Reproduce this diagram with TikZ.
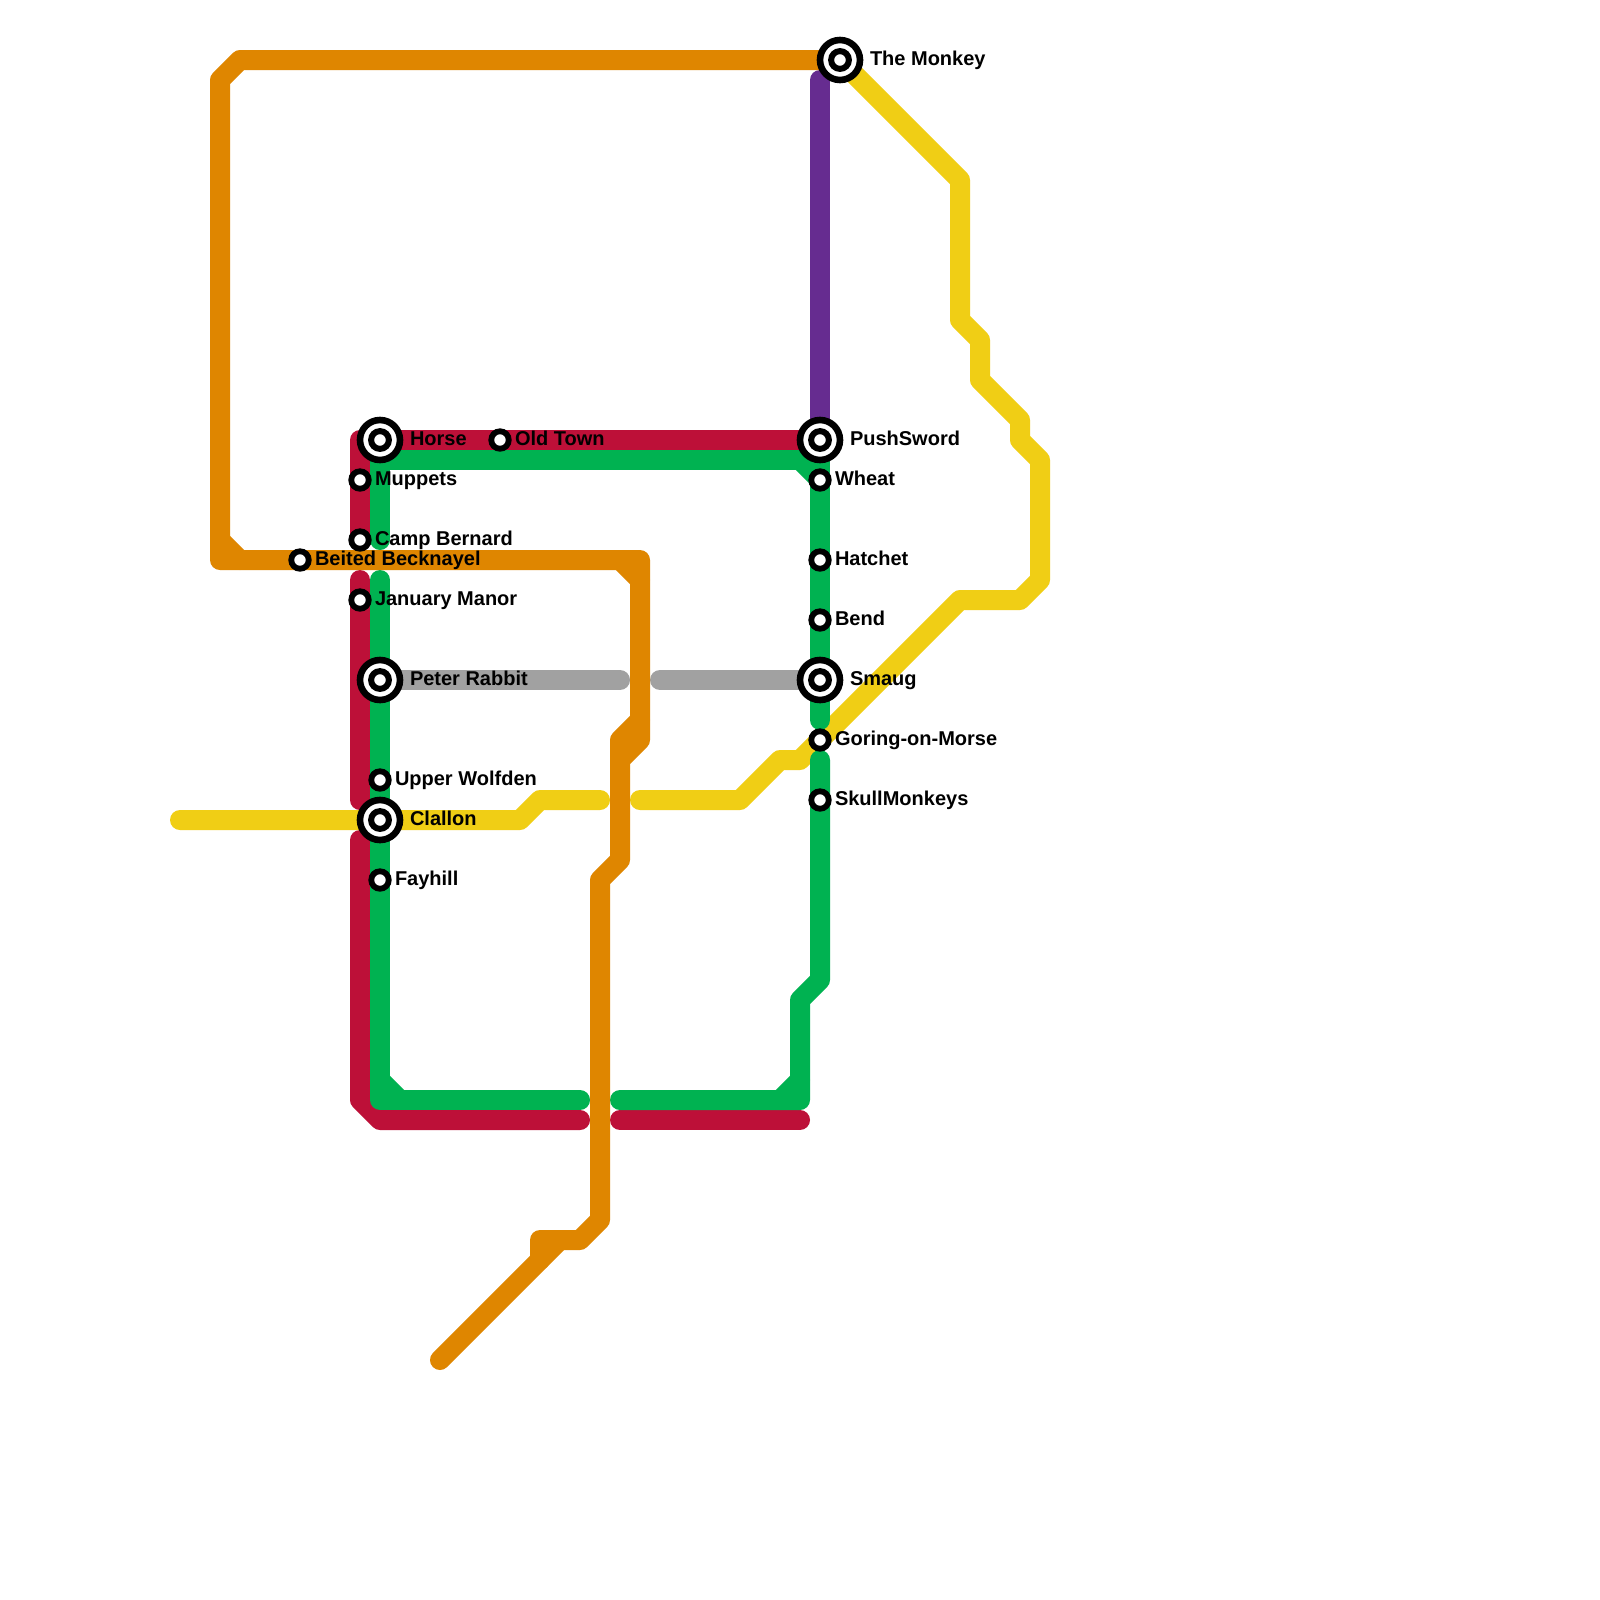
\documentclass[tikz,border=0pt]{standalone}
\usepackage{fontspec}
\setmainfont{Liberation Sans}
\usetikzlibrary{backgrounds}
\definecolor{lorange}{HTML}{DF8600}
\definecolor{lred}{HTML}{BD1038}
\definecolor{lgreen}{HTML}{00B251}
\definecolor{lyellow}{HTML}{F0CE15}
\definecolor{lpurple}{HTML}{662C90}
\definecolor{lgray}{HTML}{A1A1A1}
\tikzset{
  metro/.style={line width=1cm,line cap=round,line join=round},
  stop/.style={circle,draw=black,fill=white,line width=0.29cm,minimum size=0.875cm,inner sep=0pt,outer sep=0pt},
  hubouter/.style={circle,draw=black,fill=white,line width=0.33cm,minimum size=2cm,inner sep=0pt,outer sep=0pt},
  hubinner/.style={circle,draw=black,fill=white,line width=0.3cm,minimum size=0.89cm,inner sep=0pt,outer sep=0pt},
  tag/.style={anchor=base west,inner sep=0pt,outer sep=0pt,font=\fontsize{28.45}{30}\selectfont\bfseries,text=black}
}
\newcommand{\hubstop}[3]{%
  \node[hubouter] (#1) at (#2) {};
  \node[hubinner] (#1i) at (#2) {};
  \node[tag] (#1t) at ([xshift=1.5cm,yshift=-0.28cm]#2) {#3};
}
\newcommand{\smallstop}[3]{%
  \node[stop] (#1) at (#2) {};
  \node[tag] (#1t) at ([xshift=0.75cm,yshift=-0.28cm]#2) {#3};
}
\begin{document}
\begin{tikzpicture}[x=0.05cm,y=-0.05cm]
\path[use as bounding box] (0,0) rectangle (1600,1600);
% stations
\hubstop{monkey}{840,60}{The Monkey}
\hubstop{horse}{380,440}{Horse}
\hubstop{push}{820,440}{PushSword}
\hubstop{peter}{380,680}{Peter Rabbit}
\hubstop{smaug}{820,680}{Smaug}
\hubstop{clallon}{380,820}{Clallon}
\smallstop{oldtown}{500,440}{Old Town}
\smallstop{muppets}{360,480}{Muppets}
\smallstop{camp}{360,540}{Camp Bernard}
\smallstop{beited}{300,560}{Beited Becknayel}
\smallstop{january}{360,600}{January Manor}
\smallstop{upper}{380,780}{Upper Wolfden}
\smallstop{fayhill}{380,880}{Fayhill}
\smallstop{wheat}{820,480}{Wheat}
\smallstop{hatchet}{820,560}{Hatchet}
\smallstop{bend}{820,620}{Bend}
\smallstop{goring}{820,740}{Goring-on-Morse}
\smallstop{skull}{820,800}{SkullMonkeys}
\begin{pgfonlayer}{background}
\fill[white] (0,0) rectangle (1600,1600);
% purple
\draw[metro,lpurple] (820,80) -- (push.center);
% red
\draw[metro,lred] (camp.center) -- (360,440) -- (push.center);
\draw[metro,lred] (360,580) -- (360,800);
\draw[metro,lred] (360,840) -- (360,1100) -- (380,1120) -- (580,1120);
\draw[metro,lred] (620,1120) -- (800,1120);
% grey
\draw[metro,lgray] (peter.center) -- (620,680);
\draw[metro,lgray] (660,680) -- (smaug.center);
% yellow
\draw[metro,lyellow] (monkey.center) -- (960,180) -- (960,320) -- (980,340) -- (980,380) -- (1020,420) -- (1020,440) -- (1040,460) -- (1040,580) -- (1020,600) -- (960,600) -- (goring.center) -- (800,760) -- (780,760) -- (740,800) -- (640,800);
\draw[metro,lyellow] (600,800) -- (540,800) -- (520,820) -- (180,820);
% green
\draw[metro,lgreen] (380,540) -- (380,460) -- (820,460) -- (820,720);
\draw[metro,lgreen] (800,460) -- (820,480);
\draw[metro,lgreen] (820,760) -- (820,980) -- (800,1000) -- (800,1100) -- (620,1100);
\draw[metro,lgreen] (780,1100) -- (800,1080);
\draw[metro,lgreen] (580,1100) -- (380,1100) -- (380,580);
\draw[metro,lgreen] (380,1080) -- (400,1100);
% orange
\draw[metro,lorange] (monkey.center) -- (240,60) -- (220,80) -- (220,560) -- (640,560) -- (640,740) -- (620,760) -- (620,860) -- (600,880) -- (600,1220) -- (580,1240) -- (540,1240) -- (540,1260);
\draw[metro,lorange] (220,540) -- (240,560);
\draw[metro,lorange] (620,560) -- (640,580);
\draw[metro,lorange] (640,720) -- (620,740) -- (620,760);
\draw[metro,lorange] (560,1240) -- (440,1360);
\end{pgfonlayer}
\end{tikzpicture}
\end{document}
